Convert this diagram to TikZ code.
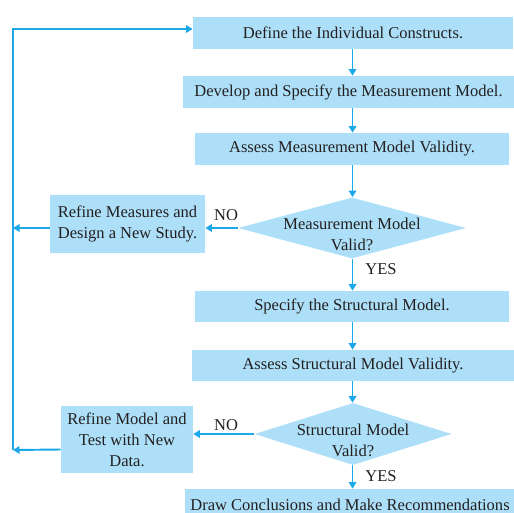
\documentclass[tikz,border=0pt]{standalone}
\usepackage{fontspec}
\setmainfont{Liberation Serif}
\usepackage{tikz}
\usetikzlibrary{arrows.meta,calc,shapes.geometric}
\definecolor{boxblue}{HTML}{ADE0F8}
\definecolor{flowline}{HTML}{1AA8E8}
\definecolor{inktext}{HTML}{231F20}
\tikzset{
  stepbox/.style={fill=boxblue,minimum height=.64cm,inner sep=0pt,text=inktext},
  sidebox/.style={fill=boxblue,inner sep=0pt,align=center,text=inktext},
  decision/.style={diamond,fill=boxblue,inner sep=0pt,minimum width=#1},
  flow/.style={flowline,line width=1.1pt,-{Triangle[length=1.3mm,width=1.5mm]}},
  tag/.style={text=inktext,inner sep=0pt}
}

\begin{document}
\begin{tikzpicture}[font=\fontsize{9.4}{12}\selectfont]
  \useasboundingbox (0,0) rectangle (10.28,-10.26);
  \node[stepbox,minimum width=6.4cm] (define) at (7.06,-.66) {Define the Individual Constructs.};
  \node[stepbox,minimum width=6.62cm] (develop) at (6.97,-1.84) {Develop and Specify the Measurement Model.};
  \node[stepbox,minimum width=6.28cm] (assessm) at (7.04,-2.98) {Assess Measurement Model Validity.};
  \node[decision=4.56cm,minimum height=1.22cm] (validm) at (7.04,-4.56) {};
  \node[tag,align=center] (validmtxt) at ([yshift=-.13cm]validm) {Measurement Model\\Valid?};
  \node[sidebox,minimum width=3.1cm,minimum height=1.16cm] (refinem) at (2.55,-4.48) {Refine Measures and\\Design a New Study.};
  \node[stepbox,minimum width=6.28cm,minimum height=.62cm] (specify) at (7.04,-6.13) {Specify the Structural Model.};
  \node[stepbox,minimum width=6.44cm,minimum height=.62cm] (assesss) at (7.06,-7.31) {Assess Structural Model Validity.};
  \node[decision=3.94cm,minimum height=1.24cm] (valids) at (7.06,-8.68) {};
  \node[tag,align=center] (validstxt) at ([yshift=-.12cm]valids) {Structural Model\\Valid?};
  \node[sidebox,minimum width=2.64cm,minimum height=1.34cm] (refines) at (2.54,-8.79) {Refine Model and\\Test with New\\Data.};
  \node[stepbox,minimum width=6.6cm] (draw) at (7.0,-10.1) {Draw Conclusions and Make Recommendations};
  % labels
  \node[tag] (nom) at (4.52,-4.3) {NO};
  \node[tag] (yesm) at (7.62,-5.38) {YES};
  \node[tag] (nos) at (4.52,-8.5) {NO};
  \node[tag] (yess) at (7.62,-9.52) {YES};
  % flow
  \coordinate (axis) at (7.05,0);
  \coordinate (back) at (.26,-9.0);
  \draw[flow] (axis |- define.south) -- (axis |- develop.north);
  \draw[flow] (axis |- develop.south) -- (axis |- assessm.north);
  \draw[flow] (axis |- assessm.south) -- (axis |- validm.north);
  \draw[flow] (axis |- validm.south) -- (axis |- specify.north);
  \draw[flow] (axis |- specify.south) -- (axis |- assesss.north);
  \draw[flow] (axis |- assesss.south) -- (axis |- valids.north);
  \draw[flow] (axis |- valids.south) -- (axis |- draw.north);
  \draw[flow] (validm.west) -- (validm.west -| refinem.east);
  \draw[flow] (valids.west) -- (valids.west -| refines.east);
  \draw[flow] (refinem.west |- validm) -- (back |- validm);
  \draw[flow] ([yshift=-.2cm]refines.west) -- (back);
  \draw[flow] (back) -- ([yshift=.08cm]back |- define) -- ([yshift=.08cm]define.west);
\end{tikzpicture}
\end{document}
